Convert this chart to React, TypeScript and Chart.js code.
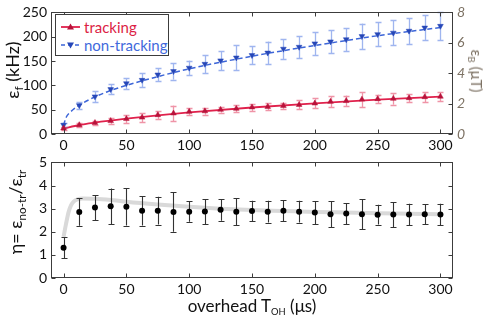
import React, { useEffect, useRef } from "react";
import { Chart, registerables } from "chart.js";
Chart.register(...registerables);

// ---------- data ----------
const xValues = [0, 12.5, 25, 37.5, 50, 62.5, 75, 87.5, 100, 112.5, 125, 137.5, 150, 162.5, 175, 187.5, 200, 212.5, 225, 237.5, 250, 262.5, 275, 287.5, 300];
const trackingValues = [11.6, 18.5, 23, 27, 31, 34, 39, 42.5, 46, 47, 50, 52, 55, 56, 58, 60, 63, 66.5, 68, 71, 72, 72.6, 74, 76, 77];
const trackingErrors = [3, 5, 4, 6, 8, 9, 8, 16, 6.5, 7, 6, 7, 7, 7.5, 6.5, 9.6, 10, 12, 11, 15, 9, 12, 9, 9.6, 10];
const nonTrackingValues = [18.5, 59, 77, 92, 104, 111, 122, 129, 136, 144, 151, 157, 162, 167, 175, 179, 186, 190, 194.5, 201, 205, 208, 212, 218.5, 222];
const nonTrackingErrors = [5, 7.5, 11, 10, 11, 14, 14, 17, 15, 19, 20, 26, 19, 23, 21, 23, 24, 24, 24, 26, 25, 26, 27, 26, 29];
const trackingFitX = [0, 12.5, 25, 50, 75, 100, 150, 200, 250, 300];
const trackingFitY = [11, 18.5, 23.5, 31.5, 38.5, 44.5, 54.5, 63, 70.5, 77];
const nonTrackingFitX = [0, 2, 5, 10, 20, 35, 50, 75, 100, 150, 200, 250, 300];
const nonTrackingFitY = [18, 34, 44, 55, 70, 87, 100, 118, 134, 160, 182, 202, 219];
const etaValues = [1.31, 2.85, 3.05, 3.1, 3.08, 2.91, 2.91, 2.85, 2.87, 2.88, 2.95, 2.87, 2.9, 2.87, 2.91, 2.87, 2.83, 2.76, 2.79, 2.76, 2.74, 2.75, 2.75, 2.76, 2.75];
const etaErrors = [0.46, 0.59, 0.54, 0.77, 0.81, 0.64, 0.6, 0.85, 0.44, 0.54, 0.47, 0.58, 0.44, 0.47, 0.45, 0.47, 0.5, 0.56, 0.45, 0.66, 0.43, 0.54, 0.46, 0.44, 0.46];
const etaFitX = [0, 2, 4, 6, 8, 11, 15, 25, 40, 50, 75, 100, 125, 150, 175, 200, 225, 250, 275, 300];
const etaFitY = [1.78, 2.35, 2.85, 3.15, 3.3, 3.4, 3.44, 3.43, 3.36, 3.3, 3.18, 3.08, 3.0, 2.94, 2.9, 2.86, 2.83, 2.8, 2.78, 2.76];
const xTicks = [0, 50, 100, 150, 200, 250, 300];
const fTicks = [0, 50, 100, 150, 200, 250];
const bTicks = [0, 2, 4, 6, 8];
const etaTicks = [0, 1, 2, 3, 4, 5];

const FONT = "Lato, 'Open Sans', sans-serif";
const FRAME = "#3c3c3c";
const RED = "#dc1e46";
const BLUE = "#4169dc";
const BROWN = "#7d7264";

const pts = (xs: number[], ys: number[]) => xs.map((x, i) => ({ x, y: ys[i] }));

const errorBarPlugin = {
  id: "errorBars",
  beforeDatasetDraw(chart: any, args: any) {
    const ds: any = chart.data.datasets[args.index];
    if (!ds.errorBars) return;
    const meta = args.meta;
    const xs = chart.scales[meta.xAxisID];
    const ys = chart.scales[meta.yAxisID];
    const ctx = chart.ctx;
    ctx.save();
    ctx.strokeStyle = ds.errorBarColor;
    ctx.lineWidth = ds.errorBarWidth || 1;
    ds.data.forEach((p: any, i: number) => {
      const e = ds.errorBars[i];
      const x = Math.round(xs.getPixelForValue(p.x)) + 0.5;
      const y1 = ys.getPixelForValue(p.y - e);
      const y2 = ys.getPixelForValue(p.y + e);
      ctx.beginPath();
      ctx.moveTo(x, y1);
      ctx.lineTo(x, y2);
      ctx.moveTo(x - 3, Math.round(y1) + 0.5);
      ctx.lineTo(x + 3, Math.round(y1) + 0.5);
      ctx.moveTo(x - 3, Math.round(y2) + 0.5);
      ctx.lineTo(x + 3, Math.round(y2) + 0.5);
      ctx.stroke();
    });
    ctx.restore();
  },
};

const framePlugin = {
  id: "frame",
  afterDraw(chart: any) {
    const { ctx, chartArea: a } = chart;
    const L = Math.round(a.left) + 0.5, R = Math.round(a.right) - 0.5;
    const T = Math.round(a.top) + 0.5, B = Math.round(a.bottom) - 0.5;
    ctx.save();
    ctx.strokeStyle = FRAME;
    ctx.lineWidth = 1;
    ctx.strokeRect(L, T, R - L, B - T);
    ctx.beginPath();
    const xs = chart.scales.x;
    xTicks.forEach((v) => {
      const x = Math.round(xs.getPixelForValue(v)) + 0.5;
      ctx.moveTo(x, B); ctx.lineTo(x, B - 4);
      ctx.moveTo(x, T); ctx.lineTo(x, T + 4);
    });
    const ys = chart.scales.y;
    const yt: number[] = chart.options.plugins.frame.yTicks;
    yt.forEach((v) => {
      const y = Math.round(ys.getPixelForValue(v)) + 0.5;
      ctx.moveTo(L, y); ctx.lineTo(L + 4, y);
      if (!chart.scales.y2) { ctx.moveTo(R, y); ctx.lineTo(R - 4, y); }
    });
    if (chart.scales.y2) {
      const y2s = chart.scales.y2;
      bTicks.forEach((v) => {
        const y = Math.round(y2s.getPixelForValue(v)) + 0.5;
        ctx.moveTo(R, y); ctx.lineTo(R - 4, y);
      });
    }
    ctx.stroke();
    ctx.restore();
  },
};

const xScale = (height: number) => ({
  type: "linear",
  min: -10,
  max: 310,
  afterBuildTicks: (s: any) => { s.ticks = xTicks.map((v) => ({ value: v })); },
  afterFit: (s: any) => { s.height = height; },
  grid: { display: false, drawTicks: false },
  border: { display: false },
  ticks: { font: { family: FONT, size: 14 }, color: "#111", padding: 3, maxRotation: 0 },
});

export default function App() {
  const topRef = useRef<HTMLCanvasElement>(null);
  const botRef = useRef<HTMLCanvasElement>(null);

  useEffect(() => {
    document.body.style.margin = "0";
    const top = new Chart(topRef.current!, {
      type: "scatter",
      data: {
        datasets: [
          {
            label: "tracking",
            data: pts(xValues, trackingValues),
            errorBars: trackingErrors,
            errorBarColor: "rgba(226,60,95,0.55)",
            errorBarWidth: 1.3,
            pointStyle: "triangle",
            pointRadius: 3.3,
            backgroundColor: "#b8123a",
            borderColor: "#b8123a",
            borderWidth: 0.5,
            showLine: false,
          } as any,
          {
            label: "non-tracking",
            data: pts(xValues, nonTrackingValues),
            errorBars: nonTrackingErrors,
            errorBarColor: "rgba(80,120,225,0.55)",
            errorBarWidth: 1.3,
            pointStyle: "triangle",
            rotation: 180,
            pointRadius: 3.3,
            backgroundColor: "#2647b8",
            borderColor: "#2647b8",
            borderWidth: 0.5,
            showLine: false,
          } as any,
          {
            label: "tracking fit",
            data: pts(trackingFitX, trackingFitY),
            showLine: true,
            pointRadius: 0,
            borderColor: "#e0214c",
            borderWidth: 1.8,
            cubicInterpolationMode: "monotone",
          } as any,
          {
            label: "non-tracking fit",
            data: pts(nonTrackingFitX, nonTrackingFitY),
            showLine: true,
            pointRadius: 0,
            borderColor: "#3d66d8",
            borderWidth: 1.5,
            borderDash: [5, 3],
            cubicInterpolationMode: "monotone",
          } as any,
        ],
      },
      options: {
        animation: false,
        responsive: false,
        devicePixelRatio: 1,
        layout: { padding: { top: 12, left: 0, right: 0, bottom: 0 } },
        plugins: { legend: { display: false }, tooltip: { enabled: false }, frame: { yTicks: fTicks } } as any,
        scales: {
          x: xScale(16) as any,
          y: {
            type: "linear",
            position: "left",
            min: 0,
            max: 250,
            afterBuildTicks: (s: any) => { s.ticks = fTicks.map((v) => ({ value: v })); },
            afterFit: (s: any) => { s.width = 51; },
            grid: { display: false, drawTicks: false },
            border: { display: false },
            ticks: { font: { family: FONT, size: 14 }, color: "#111", padding: 4 },
          },
          y2: {
            type: "linear",
            position: "right",
            min: 0,
            max: 8,
            afterBuildTicks: (s: any) => { s.ticks = bTicks.map((v) => ({ value: v })); },
            afterFit: (s: any) => { s.width = 37; },
            grid: { display: false, drawTicks: false },
            border: { display: false },
            ticks: { font: { family: FONT, size: 14, style: "italic" }, color: BROWN, padding: 4 },
          },
        },
      },
      plugins: [errorBarPlugin, framePlugin],
    });

    const bot = new Chart(botRef.current!, {
      type: "scatter",
      data: {
        datasets: [
          {
            label: "eta",
            data: pts(xValues, etaValues),
            errorBars: etaErrors,
            errorBarColor: "#333",
            errorBarWidth: 1.1,
            pointStyle: "circle",
            pointRadius: 3,
            backgroundColor: "#000",
            borderColor: "#000",
            borderWidth: 0,
            showLine: false,
          } as any,
          {
            label: "eta fit",
            data: pts(etaFitX, etaFitY),
            showLine: true,
            pointRadius: 0,
            borderColor: "#d9d9d9",
            borderWidth: 4,
            cubicInterpolationMode: "monotone",
          } as any,
        ],
      },
      options: {
        animation: false,
        responsive: false,
        devicePixelRatio: 1,
        layout: { padding: { top: 6, left: 0, right: 37, bottom: 0 } },
        plugins: { legend: { display: false }, tooltip: { enabled: false }, frame: { yTicks: etaTicks } } as any,
        scales: {
          x: xScale(44) as any,
          y: {
            type: "linear",
            position: "left",
            min: 0,
            max: 5,
            afterBuildTicks: (s: any) => { s.ticks = etaTicks.map((v) => ({ value: v })); },
            afterFit: (s: any) => { s.width = 51; },
            grid: { display: false, drawTicks: false },
            border: { display: false },
            ticks: { font: { family: FONT, size: 14 }, color: "#111", padding: 4 },
          },
        },
      },
      plugins: [errorBarPlugin, framePlugin],
    });

    return () => { top.destroy(); bot.destroy(); };
  }, []);

  const txt: React.CSSProperties = { position: "absolute", fontFamily: FONT, fontSize: 18, color: "#111", whiteSpace: "nowrap", lineHeight: "20px" };
  const sub: React.CSSProperties = { fontSize: "65%", verticalAlign: "-0.3em", lineHeight: 0 };

  return (
    <div style={{ position: "fixed", left: 0, top: 0, width: 490, height: 322, background: "#fff" }}>
      <canvas ref={topRef} width={490} height={150} style={{ position: "absolute", left: 0, top: 0, width: 490, height: 150 }} />
      <canvas ref={botRef} width={490} height={172} style={{ position: "absolute", left: 0, top: 150, width: 490, height: 172 }} />

      <div style={{ ...txt, left: 12, top: 70, transform: "translate(-50%,-50%) rotate(-90deg)" }}>
        ε<span style={sub}>f</span> (kHz)
      </div>
      <div style={{ ...txt, left: 477, top: 71, fontSize: 15, color: BROWN, transform: "translate(-50%,-50%) rotate(90deg)" }}>
        ε<span style={sub}>B</span> (μT)
      </div>
      <div style={{ ...txt, left: 15, top: 212, transform: "translate(-50%,-50%) rotate(-90deg)" }}>
        η= ε<span style={sub}>no-tr</span>/ε<span style={sub}>tr</span>
      </div>
      <div style={{ ...txt, left: 252, top: 306, fontSize: 17, transform: "translate(-50%,-50%)" }}>
        overhead T<span style={{ ...sub, fontSize: "55%" }}>OH</span> (μs)
      </div>

      <div style={{ position: "absolute", left: 55, top: 14, width: 112, height: 40, border: `1px solid ${FRAME}`, background: "#fff", fontFamily: FONT, fontSize: 15 }}>
        <div style={{ position: "absolute", left: 5, top: 3, height: 18, display: "flex", alignItems: "center", color: RED }}>
          <svg width={19} height={10} style={{ marginRight: 4 }}>
            <line x1={0} y1={5} x2={19} y2={5} stroke="#e0214c" strokeWidth={1.8} />
            <polygon points="9.5,1.5 13,7.5 6,7.5" fill="#b8123a" />
          </svg>
          tracking
        </div>
        <div style={{ position: "absolute", left: 5, top: 21, height: 18, display: "flex", alignItems: "center", color: BLUE }}>
          <svg width={19} height={10} style={{ marginRight: 4 }}>
            <line x1={0} y1={5} x2={19} y2={5} stroke="#3d66d8" strokeWidth={1.5} strokeDasharray="4 3" />
            <polygon points="6,2.5 13,2.5 9.5,8.5" fill="#2647b8" />
          </svg>
          non-tracking
        </div>
      </div>
    </div>
  );
}
